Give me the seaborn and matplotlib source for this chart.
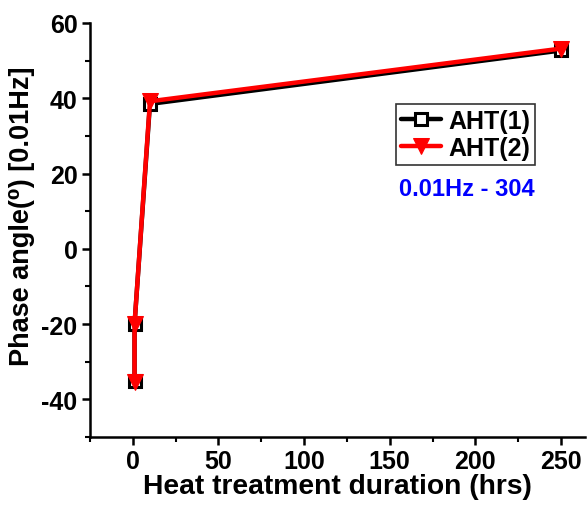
import seaborn as sns
import matplotlib.pyplot as plt
import pandas as pd
from matplotlib.ticker import MultipleLocator

# data
hours = [1, 1, 10, 250]
aht1 = [-35, -20, 38.5, 52.7]
aht2 = [-35.5, -20, 39.2, 53.2]

sns.set_style("ticks")
plt.rcParams['font.family'] = ['Liberation Sans', 'DejaVu Sans']
plt.rcParams['font.weight'] = 'bold'
plt.rcParams['text.color'] = 'black'
plt.rcParams['axes.labelcolor'] = 'black'
plt.rcParams['xtick.color'] = 'black'
plt.rcParams['ytick.color'] = 'black'
plt.rcParams['axes.edgecolor'] = 'black'
plt.rcParams['axes.unicode_minus'] = False

df1 = pd.DataFrame({"hrs": hours, "phase": aht1})
df2 = pd.DataFrame({"hrs": hours, "phase": aht2})

fig = plt.figure(figsize=(5.87, 5.06), dpi=100)
ax = fig.add_axes([90 / 587, 1 - 438 / 506, 495 / 587, (438 - 24) / 506])

sns.lineplot(data=df1, x="hrs", y="phase", ax=ax, color="black", lw=3.2,
             marker="s", markersize=9, markerfacecolor="white",
             markeredgecolor="black", markeredgewidth=2.2, sort=False,
             estimator=None, label="AHT(1)")
sns.lineplot(data=df2, x="hrs", y="phase", ax=ax, color="red", lw=3.2,
             marker="v", markersize=11, markerfacecolor="red",
             markeredgecolor="red", sort=False, estimator=None,
             label="AHT(2)")

ax.set_xlim(-25, 264)
ax.set_ylim(-50, 60)
ax.xaxis.set_major_locator(MultipleLocator(50))
ax.xaxis.set_minor_locator(MultipleLocator(25))
ax.yaxis.set_major_locator(MultipleLocator(20))
ax.yaxis.set_minor_locator(MultipleLocator(10))
ax.tick_params(which="major", length=6, width=1.8, labelsize=18, pad=3)
ax.tick_params(which="minor", length=3.5, width=1.5)
for lab in ax.get_xticklabels() + ax.get_yticklabels():
    lab.set_fontweight("bold")

for side in ["top", "right"]:
    ax.spines[side].set_visible(False)
for side in ["left", "bottom"]:
    ax.spines[side].set_linewidth(1.8)

ax.set_xlabel("Heat treatment duration (hrs)", fontsize=20.3, fontweight="bold",
              labelpad=0)
ax.set_ylabel("Phase angle(⁰) [0.01Hz]", fontsize=19.5, fontweight="bold")
ax.yaxis.set_label_coords(-0.111, 0.536)

leg = ax.legend(loc="upper left", bbox_to_anchor=(0.618, 0.805), fontsize=18,
                frameon=True, fancybox=False, edgecolor="black",
                handlelength=1.6, borderpad=0.2, labelspacing=0.12,
                handletextpad=0.3, borderaxespad=0)
leg.get_frame().set_linewidth(1.2)
for t in leg.get_texts():
    t.set_fontweight("bold")

ax.text(0.625, 0.585, "0.01Hz - 304", transform=ax.transAxes, color="blue",
        fontsize=17, fontweight="bold")

fig.savefig("out.png", dpi=100)
